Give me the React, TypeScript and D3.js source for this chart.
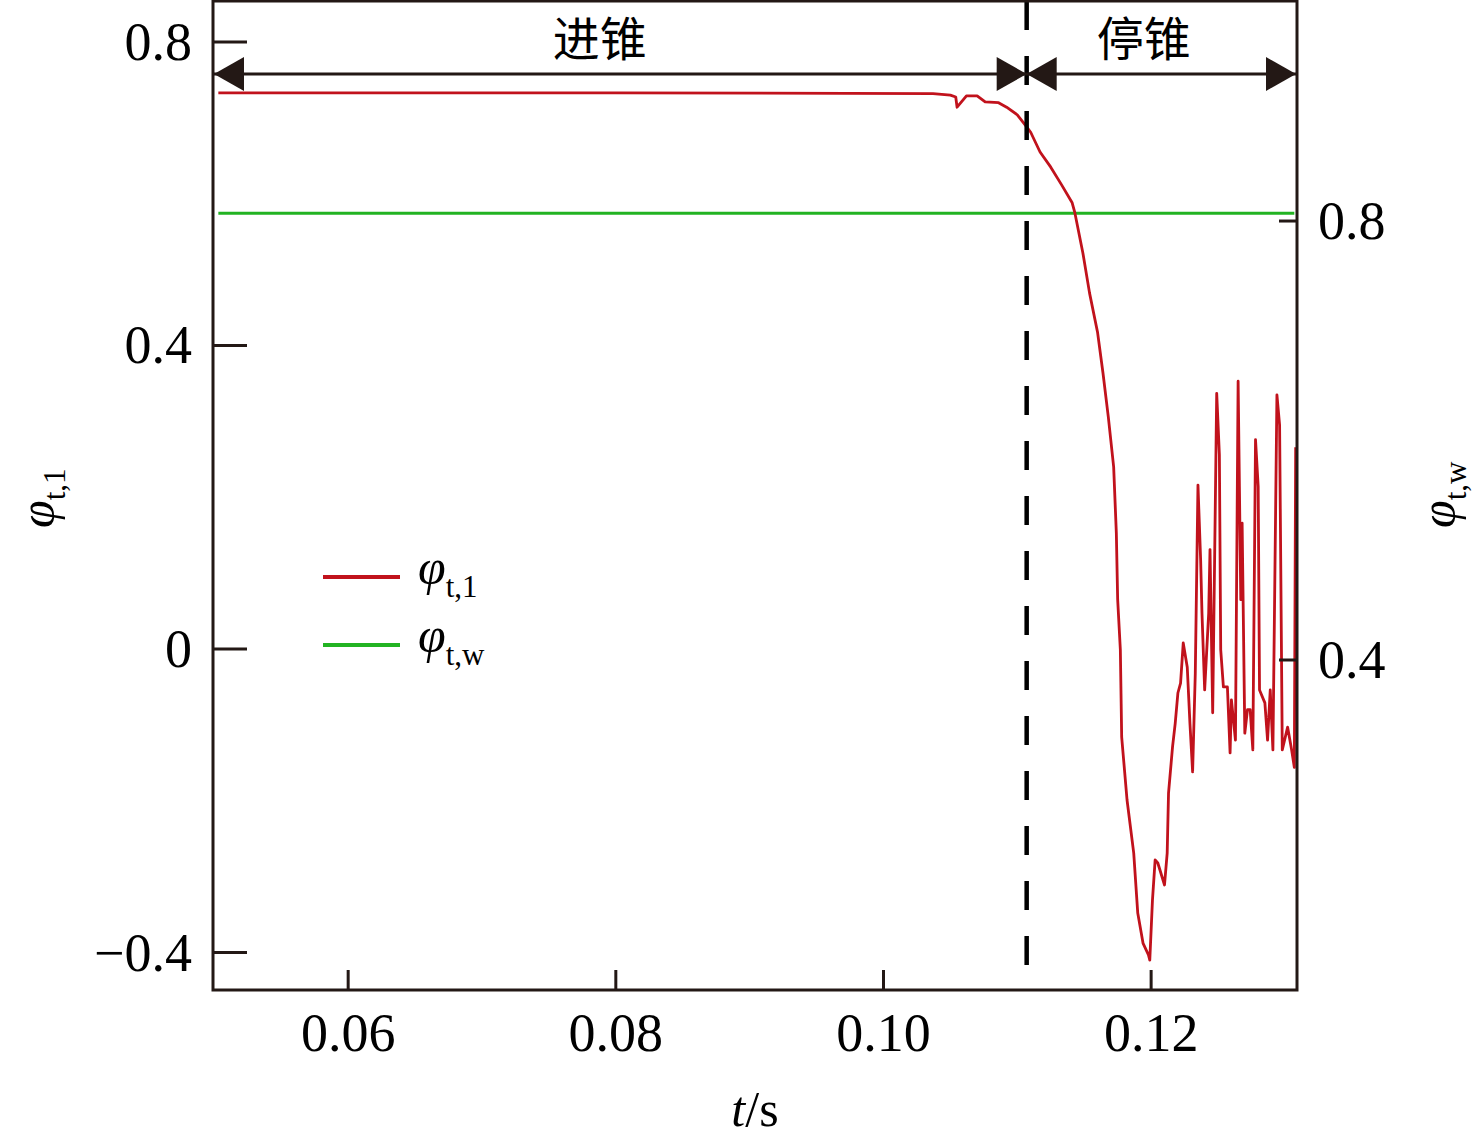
import React, { useEffect, useRef } from 'react';
import * as d3 from 'd3';

// red curve phi_t,1 (t in s)
const redT = [
  0.0503, 0.0800, 0.1037, 0.1050, 0.1054, 0.1055, 0.1062, 0.1070, 0.1076, 0.1086,
  0.1092, 0.1100, 0.1107, 0.1110, 0.1117, 0.1125, 0.1133, 0.1141, 0.1143, 0.1149,
  0.1154, 0.1160, 0.1164, 0.1168, 0.1172, 0.1174, 0.1175, 0.1177, 0.1178, 0.1182,
  0.1187, 0.1190, 0.1194, 0.1198, 0.1199, 0.1201, 0.1203, 0.1205, 0.1210, 0.1212,
  0.1213, 0.1216, 0.1218, 0.1220, 0.1222, 0.1224, 0.1227, 0.1229, 0.1231, 0.1233,
  0.1235, 0.1237, 0.1238, 0.1240, 0.1243, 0.1244, 0.1246, 0.1249, 0.1251, 0.1252,
  0.1254, 0.1257, 0.1259, 0.1260, 0.1263, 0.1265, 0.1267, 0.1268, 0.1270, 0.1272,
  0.1274, 0.1276, 0.1278, 0.1280, 0.1281, 0.1285, 0.1287, 0.1289, 0.1291, 0.1294,
  0.1296, 0.1298, 0.1302, 0.1305, 0.1307, 0.1308
];
const redPhi = [
  0.733, 0.733, 0.732, 0.730, 0.7275, 0.714, 0.729, 0.729, 0.721, 0.720,
  0.714, 0.704, 0.688, 0.681, 0.655, 0.635, 0.612, 0.588, 0.575, 0.522,
  0.469, 0.417, 0.364, 0.306, 0.240, 0.153, 0.065, -0.001, -0.116, -0.199,
  -0.269, -0.348, -0.388, -0.403, -0.410, -0.331, -0.278, -0.282, -0.311, -0.269,
  -0.190, -0.129, -0.098, -0.058, -0.045, 0.008, -0.024, -0.098, -0.162, -0.032,
  0.216, 0.117, 0.047, -0.054, 0.047, 0.131, -0.084, 0.337, 0.256, -0.001,
  -0.050, -0.050, -0.137, -0.067, -0.120, 0.353, 0.065, 0.166, -0.111, -0.080,
  -0.080, -0.133, 0.276, 0.214, -0.054, -0.071, -0.120, -0.054, -0.133, 0.335,
  0.295, -0.133, -0.103, -0.133, -0.156, 0.266
];

// green threshold phi_t,w (right axis)
const greenT = [0.0503, 0.1307];
const greenPhi = [0.807, 0.807];

const leftTicks = [0.8, 0.4, 0, -0.4];
const rightTicks = [0.8, 0.4];
const bottomTicks = [0.06, 0.08, 0.10, 0.12];
const boundaryT = 0.1107;
const phaseLabels = ['进锥', '停锥'];

const AXIS = '#231815';
const RED = '#c1121c';
const GREEN = '#22b322';
const SERIF = '"Liberation Serif", "Times New Roman", serif';

export default function App() {
  const svgRef = useRef<SVGSVGElement>(null);

  useEffect(() => {
    if (!svgRef.current) return;
    const svg = d3.select(svgRef.current);
    svg.selectAll('*').remove();

    const left = 213, right = 1297, top = 1, bottom = 990;

    const x = d3.scaleLinear().domain([0.0499, 0.1309]).range([left, right]);
    const yL = d3.scaleLinear().domain([-0.4494, 0.8553]).range([bottom, 0]);
    const yR = d3.scaleLinear().domain([0.0993, 1.0014]).range([bottom, 0]);

    const line = d3.line<[number, number]>().x(d => d[0]).y(d => d[1]);

    // green line
    svg.append('path')
      .datum(greenT.map((t, i) => [x(t), yR(greenPhi[i])] as [number, number]))
      .attr('fill', 'none')
      .attr('stroke', GREEN)
      .attr('stroke-width', 3)
      .attr('d', line);

    // red line
    svg.append('path')
      .datum(redT.map((t, i) => [x(t), yL(redPhi[i])] as [number, number]))
      .attr('fill', 'none')
      .attr('stroke', RED)
      .attr('stroke-width', 2.8)
      .attr('stroke-linejoin', 'round')
      .attr('d', line);

    // dashed boundary
    svg.append('line')
      .attr('x1', x(boundaryT)).attr('x2', x(boundaryT))
      .attr('y1', top).attr('y2', bottom)
      .attr('stroke', '#000')
      .attr('stroke-width', 4.5)
      .attr('stroke-dasharray', '29,26');

    // frame
    svg.append('rect')
      .attr('x', left).attr('y', top)
      .attr('width', right - left).attr('height', bottom - top)
      .attr('fill', 'none')
      .attr('stroke', AXIS)
      .attr('stroke-width', 3);

    // left axis ticks
    const gl = svg.append('g');
    leftTicks.forEach(v => {
      gl.append('line')
        .attr('x1', left).attr('x2', left + 34)
        .attr('y1', yL(v)).attr('y2', yL(v))
        .attr('stroke', AXIS).attr('stroke-width', 3);
      gl.append('text')
        .attr('x', 192).attr('y', yL(v) + 18)
        .attr('text-anchor', 'end')
        .attr('font-family', SERIF)
        .attr('font-size', 54)
        .attr('fill', '#000')
        .text(v < 0 ? `\u2212${d3.format('.1f')(-v)}` : v === 0 ? '0' : d3.format('.1f')(v));
    });

    // right axis ticks
    const gr = svg.append('g');
    rightTicks.forEach(v => {
      gr.append('line')
        .attr('x1', right - 18).attr('x2', right)
        .attr('y1', yR(v)).attr('y2', yR(v))
        .attr('stroke', AXIS).attr('stroke-width', 3);
      gr.append('text')
        .attr('x', 1318).attr('y', yR(v) + 18)
        .attr('font-family', SERIF)
        .attr('font-size', 54)
        .attr('fill', '#000')
        .text(d3.format('.1f')(v));
    });

    // bottom axis ticks
    const gb = svg.append('g');
    bottomTicks.forEach(t => {
      gb.append('line')
        .attr('x1', x(t)).attr('x2', x(t))
        .attr('y1', bottom).attr('y2', bottom - 20)
        .attr('stroke', AXIS).attr('stroke-width', 3);
      gb.append('text')
        .attr('x', x(t)).attr('y', 1051)
        .attr('text-anchor', 'middle')
        .attr('font-family', SERIF)
        .attr('font-size', 54)
        .attr('fill', '#000')
        .text(d3.format('.2f')(t));
    });

    // x title
    const xt = svg.append('text')
      .attr('x', 755).attr('y', 1126)
      .attr('text-anchor', 'middle')
      .attr('font-family', SERIF)
      .attr('font-size', 50)
      .attr('fill', '#000');
    xt.append('tspan').attr('font-style', 'italic').text('t');
    xt.append('tspan').text('/s');

    // phi titles, rotated
    const phiTitle = (g: d3.Selection<SVGTextElement, unknown, null, undefined>, sub: string) => {
      g.attr('font-family', SERIF).attr('fill', '#000');
      g.append('tspan').attr('font-style', 'italic').attr('font-size', 50).text('\u03c6');
      g.append('tspan').attr('font-size', 31).attr('dy', 11).text(sub);
    };
    phiTitle(svg.append('text').attr('transform', 'translate(54,528) rotate(-90)'), 't,1');
    phiTitle(svg.append('text').attr('transform', 'translate(1455,528) rotate(-90)'), 't,w');

    // phase arrows
    const arrowY = 74;
    const bx = x(boundaryT);
    svg.append('line')
      .attr('x1', left).attr('x2', right)
      .attr('y1', arrowY).attr('y2', arrowY)
      .attr('stroke', AXIS).attr('stroke-width', 3);
    const head = (tip: number, dir: number) => {
      svg.append('path')
        .attr('d', `M${tip},${arrowY}L${tip - dir * 30},${arrowY - 17}L${tip - dir * 30},${arrowY + 17}Z`)
        .attr('fill', AXIS);
    };
    head(left + 1, -1);
    head(bx, 1);
    head(bx, -1);
    head(right - 1, 1);

    [[(left + bx) / 2 - 20, phaseLabels[0]], [(bx + right) / 2 - 18, phaseLabels[1]]].forEach(([cx, s]) => {
      svg.append('text')
        .attr('x', cx as number).attr('y', 56)
        .attr('text-anchor', 'middle')
        .attr('font-family', '"Noto Sans CJK SC", sans-serif')
        .attr('font-size', 47)
        .attr('fill', '#000')
        .text(s as string);
    });

    // legend
    const legend = [
      { color: RED, sub: 't,1', y: 577 },
      { color: GREEN, sub: 't,w', y: 645 }
    ];
    legend.forEach(it => {
      svg.append('line')
        .attr('x1', 323).attr('x2', 400)
        .attr('y1', it.y).attr('y2', it.y)
        .attr('stroke', it.color).attr('stroke-width', 4);
      const tx = svg.append('text')
        .attr('x', 418).attr('y', it.y + 7)
        .attr('font-family', SERIF)
        .attr('fill', '#000');
      tx.append('tspan').attr('font-style', 'italic').attr('font-size', 50).text('\u03c6');
      tx.append('tspan').attr('font-size', 31).attr('dy', 13).text(it.sub);
    });
  }, []);

  return (
    <svg
      ref={svgRef}
      width={1476}
      height={1147}
      style={{ position: 'absolute', left: 0, top: 0, background: '#fff' }}
    />
  );
}
